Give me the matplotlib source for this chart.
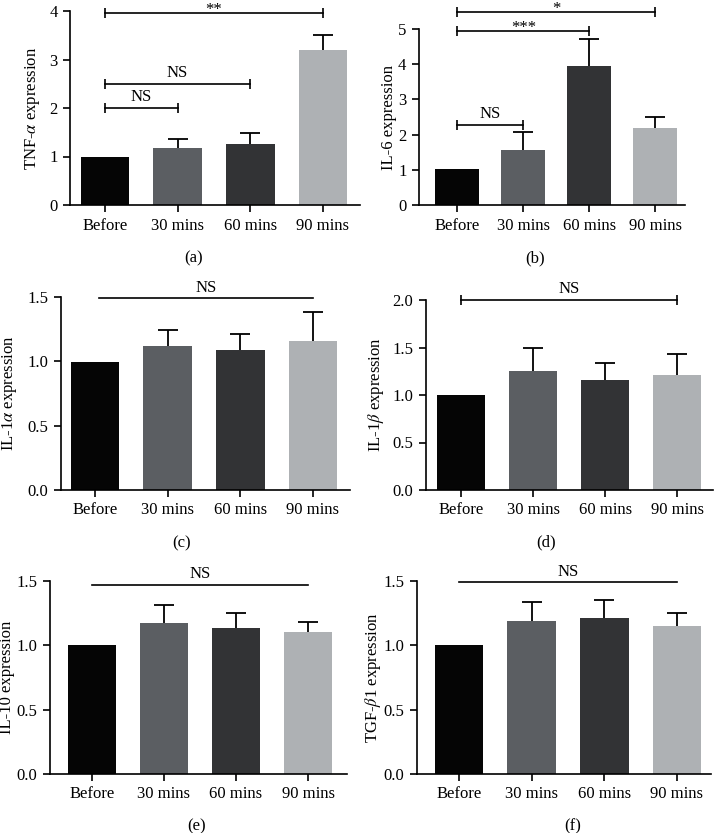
import matplotlib
matplotlib.use("Agg")
import matplotlib.pyplot as plt

plt.rcParams['font.family'] = ['Liberation Serif', 'DejaVu Serif']
plt.rcParams['mathtext.fontset'] = 'stix'

categories = ['Before', '30 mins', '60 mins', '90 mins']
bar_colors = ['#050505', '#5b5e62', '#323335', '#aeb1b4']

tnf_mean = [1.0, 1.18, 1.26, 3.2]
tnf_err = [0.0, 0.19, 0.22, 0.31]
il6_mean = [1.01, 1.56, 3.94, 2.19]
il6_err = [0.0, 0.5, 0.77, 0.3]
il1a_mean = [0.995, 1.12, 1.09, 1.16]
il1a_err = [0.0, 0.125, 0.125, 0.225]
il1b_mean = [1.0, 1.25, 1.16, 1.21]
il1b_err = [0.0, 0.25, 0.18, 0.22]
il10_mean = [1.0, 1.17, 1.135, 1.10]
il10_err = [0.0, 0.14, 0.115, 0.085]
tgf_mean = [1.0, 1.19, 1.21, 1.15]
tgf_err = [0.0, 0.145, 0.14, 0.10]

ylabels = ['TNF-$\\alpha$ expression', 'IL-6 expression', 'IL-1$\\alpha$ expression',
           'IL-1$\\beta$ expression', 'IL-10 expression', 'TGF-$\\beta$1 expression']
panel_tags = ['(a)', '(b)', '(c)', '(d)', '(e)', '(f)']
yticks_list = [[0, 1, 2, 3, 4], [0, 1, 2, 3, 4, 5], [0.0, 0.5, 1.0, 1.5],
               [0.0, 0.5, 1.0, 1.5, 2.0], [0.0, 0.5, 1.0, 1.5], [0.0, 0.5, 1.0, 1.5]]
ytick_fmt = ['{:.0f}', '{:.0f}', '{:.1f}', '{:.1f}', '{:.1f}', '{:.1f}']

# significance brackets: (start, end, height, label, end caps)
sig_a = [(0, 3, 3.95, '**', True), (0, 2, 2.5, 'NS', True), (0, 1, 2.0, 'NS', True)]
sig_b = [(0, 3, 5.47, '*', True), (0, 2, 4.93, '***', True), (0, 1, 2.28, 'NS', True)]
sig_c = [(0.05, 3, 1.49, 'NS', False)]
sig_d = [(0, 3, 2.0, 'NS', True)]
sig_e = [(0, 3, 1.47, 'NS', False)]
sig_f = [(0, 3, 1.49, 'NS', False)]

means = [tnf_mean, il6_mean, il1a_mean, il1b_mean, il10_mean, tgf_mean]
errs = [tnf_err, il6_err, il1a_err, il1b_err, il10_err, tgf_err]
sigs = [sig_a, sig_b, sig_c, sig_d, sig_e, sig_f]

W, H = 716, 833
fig = plt.figure(figsize=(W / 100, H / 100), dpi=100)

# axes boxes in pixels: left, top, right, bottom
boxes = [(70, 11, 360, 205), (419, 29, 685, 205), (61, 297, 350, 490),
         (426, 300, 713, 490), (50, 581, 347, 774), (417, 581, 711, 774)]
xlims = [(-0.48, 3.51), (-0.58, 3.45), (-0.47, 3.51), (-0.49, 3.5), (-0.58, 3.54), (-0.58, 3.47)]
ylabel_right = [42, 397, 19, 386, 15, 383]
tag_pos = [(194, 258), (535, 258), (182, 543), (546, 542), (197, 826), (573, 826)]

for i in range(6):
    l, t, r, b = boxes[i]
    ax = fig.add_axes([l / W, 1 - b / H, (r - l) / W, (b - t) / H])
    x = list(range(len(categories)))
    ax.bar(x, means[i], width=0.67, color=bar_colors, zorder=2)
    lower = [0] * len(categories)
    eb = ax.errorbar(x[1:], means[i][1:], yerr=[lower[1:], errs[i][1:]], fmt='none',
                     ecolor='black', elinewidth=1.3, capsize=7.5, capthick=1.3, zorder=3)
    caplines = eb[1]
    if len(caplines) >= 2:
        caplines[0].set_visible(False)
    ax.set_xlim(*xlims[i])
    yt = yticks_list[i]
    ax.set_ylim(yt[0], yt[-1])
    ax.set_yticks(yt)
    ax.set_yticklabels([ytick_fmt[i].format(v) for v in yt])
    ax.set_xticks(x)
    ax.set_xticklabels(categories)
    for s in ['top', 'right']:
        ax.spines[s].set_visible(False)
    for s in ['left', 'bottom']:
        ax.spines[s].set_linewidth(1.2)
    ax.tick_params(axis='both', labelsize=12, width=1.2, length=5, direction='out', pad=4)
    ax.set_ylabel(ylabels[i], fontsize=12)
    ax.yaxis.set_label_coords((ylabel_right[i] - l) / (r - l), 0.5)
    for (x1, x2, yy, txt, caps) in sigs[i]:
        ax.plot([x1, x2], [yy, yy], color='black', lw=1.2, clip_on=False, zorder=4,
                marker='|' if caps else None, markersize=7, markeredgewidth=1.2)
        off = -3.5 if txt.startswith('*') else 2
        ax.annotate(txt, xy=((x1 + x2) / 2, yy), xytext=(0, off), textcoords='offset points',
                    ha='center', va='bottom', fontsize=12, annotation_clip=False)
    tx, ty = tag_pos[i]
    fig.text(tx / W, 1 - ty / H, panel_tags[i], ha='center', va='center', fontsize=12)

fig.savefig('out.png', dpi=100)
